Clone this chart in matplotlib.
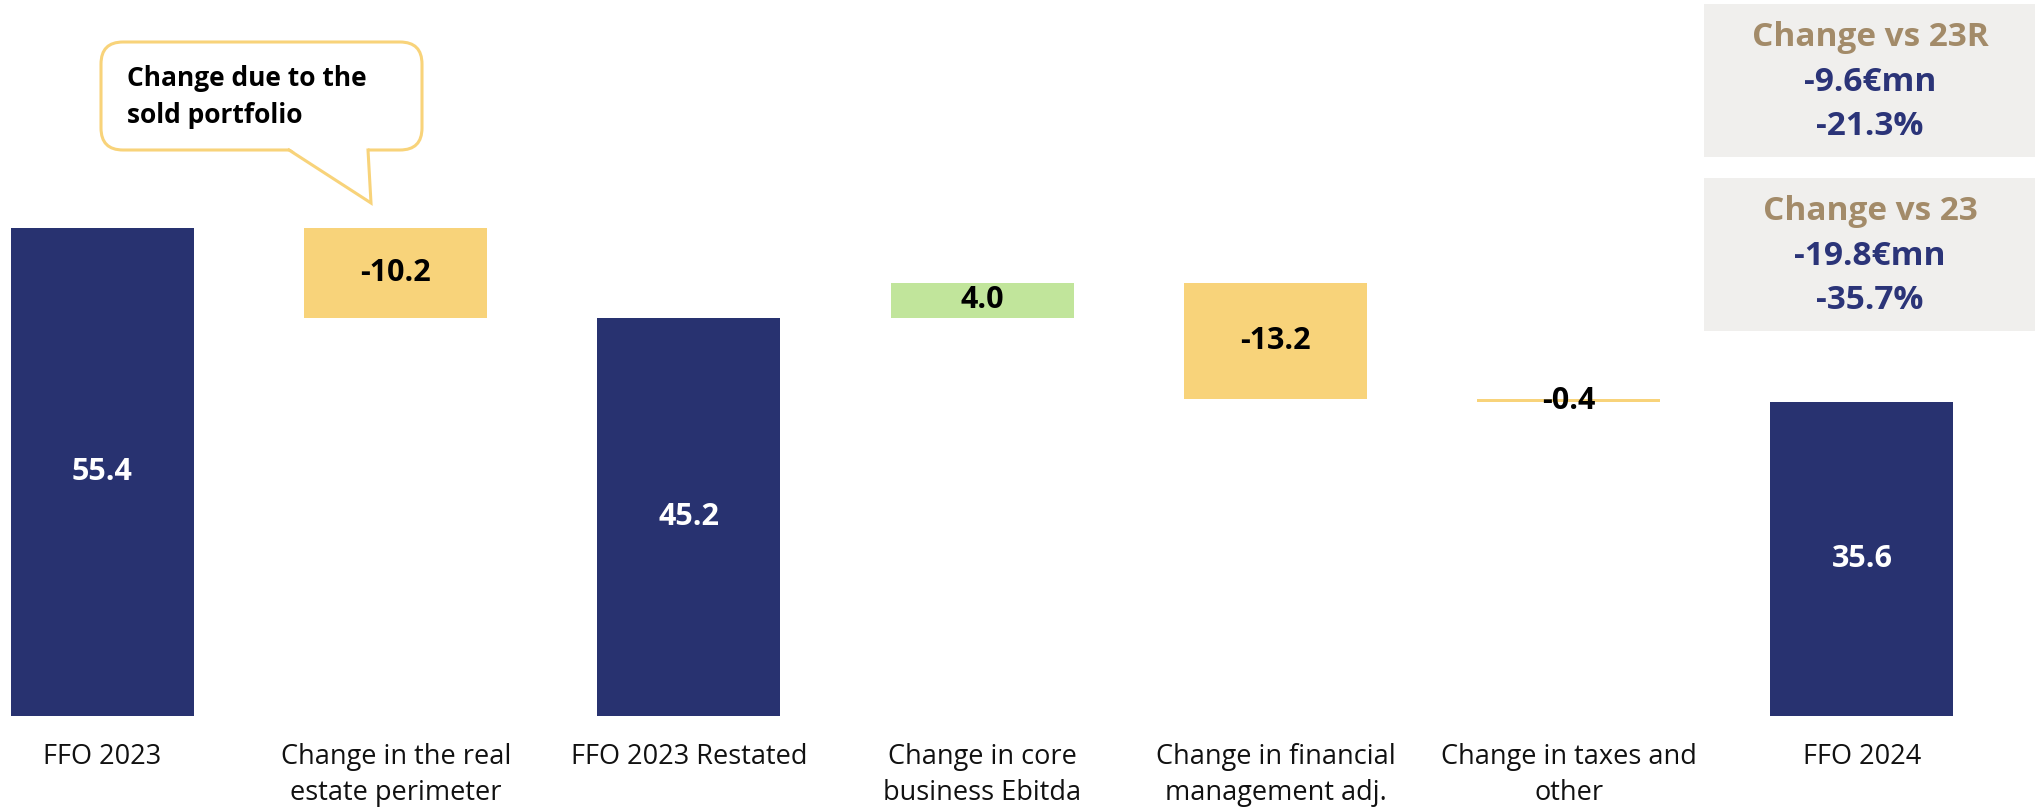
import matplotlib
matplotlib.use("Agg")
import matplotlib.pyplot as plt
from matplotlib.patches import FancyBboxPatch, Rectangle, Polygon
from matplotlib.lines import Line2D

# ---- data -------------------------------------------------------------
categories = [
    "FFO 2023",
    "Change in the real\nestate perimeter",
    "FFO 2023 Restated",
    "Change in core\nbusiness Ebitda",
    "Change in financial\nmanagement adj.",
    "Change in taxes and\nother",
    "FFO 2024",
]
values = [55.4, -10.2, 45.2, 4.0, -13.2, -0.4, 35.6]
is_total = [True, False, True, False, False, False, True]

callout_text = "Change due to the\nsold portfolio"
box_titles = ["Change vs 23R", "Change vs 23"]
box_abs = ["-9.6€mn", "-19.8€mn"]
box_pct = ["-21.3%", "-35.7%"]

# ---- style ------------------------------------------------------------
NAVY = "#283270"
YELLOW = "#F8D37A"
GREEN = "#C1E59B"
TAN = "#A38B69"
NAVY_TXT = "#2B3478"
GREY = "#F0EFED"
FONT = ["Open Sans", "DejaVu Sans"]

W, H, DPI = 2035, 809, 100
fig = plt.figure(figsize=(W / DPI, H / DPI), dpi=DPI)
ax = fig.add_axes([0, 0, 1, 1])
ax.set_xlim(-0.3495, 6.590)
ax.set_ylim(-10.56, 81.27)
ax.axis("off")

# ---- waterfall bars ---------------------------------------------------
level = 0.0
bar_w = 0.624
for i, (v, tot) in enumerate(zip(values, is_total)):
    if tot:
        bottom, height, color, tcol = 0.0, v, NAVY, "white"
        level = v
    else:
        if v >= 0:
            bottom, height = level, v
            color = GREEN
        else:
            bottom, height = level + v, -v
            color = YELLOW
        tcol = "black"
        level = level + v
    ax.bar(i, height, bottom=bottom, width=bar_w, color=color, linewidth=0)
    ax.text(i, bottom + height / 2, f"{v:.1f}", ha="center", va="center",
            color=tcol, fontsize=22, fontweight="bold", family=FONT)

# ---- category labels --------------------------------------------------
px_per_unit = 488 / 55.4
for i, name in enumerate(categories):
    for j, line in enumerate(name.split("\n")):
        y = -(41 + 36 * j) / px_per_unit
        ax.text(i, y, line, ha="center", va="center", fontsize=19.5,
                color="#111111", family=FONT)

# ---- overlay in pixel space for callout and summary boxes -------------
ov = fig.add_axes([0, 0, 1, 1], facecolor="none")
ov.set_xlim(0, W)
ov.set_ylim(H, 0)
ov.axis("off")

# speech bubble
bubble = FancyBboxPatch((101, 42), 321, 108,
                        boxstyle="round,pad=0,rounding_size=22",
                        facecolor="white", edgecolor=YELLOW, linewidth=2.2)
ov.add_patch(bubble)
ov.add_patch(Polygon([(289, 148), (371, 203), (368, 148)], closed=True,
                     facecolor="white", edgecolor="none", zorder=3))
ov.add_line(Line2D([289, 371, 368], [150, 203, 150], color=YELLOW,
                   linewidth=2.2, zorder=4, solid_joinstyle="miter"))
ov.text(127, 97, callout_text, ha="left", va="center", fontsize=19,
        fontweight="bold", color="black", family=FONT, linespacing=1.45)

# summary boxes
box_tops = [4, 178]
for k in range(2):
    top = box_tops[k]
    ov.add_patch(Rectangle((1704, top), W - 1704, 153, facecolor=GREY,
                           edgecolor="none"))
    cx = 1870
    ov.text(cx, top + 33, box_titles[k], ha="center", va="center",
            fontsize=24, fontweight="bold", color=TAN, family=FONT)
    ov.text(cx, top + 78, box_abs[k], ha="center", va="center",
            fontsize=24, fontweight="bold", color=NAVY_TXT, family=FONT)
    ov.text(cx, top + 122, box_pct[k], ha="center", va="center",
            fontsize=24, fontweight="bold", color=NAVY_TXT, family=FONT)

fig.savefig("out.png", dpi=DPI, facecolor="white")
